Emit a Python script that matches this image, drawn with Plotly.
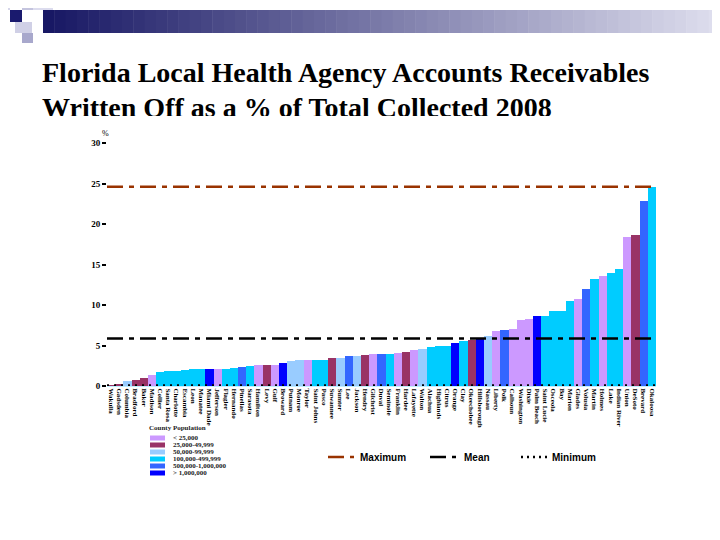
import plotly.graph_objects as go

counties = ["Wakulla", "Gadsden", "Columbia", "Bradford", "Baker", "Madison", "Collier",
            "Santa Rosa", "Charlotte", "Escambia", "Leon", "Manatee", "Miami Dade", "Jefferson",
            "Flagler", "Hernando", "Pinellas", "Sarasota", "Hamilton", "Levy", "Gulf", "Broward",
            "Putnam", "Monroe", "Taylor", "Saint Johns", "Pasco", "Suwannee", "Sumter", "Lee",
            "Jackson", "Hendry", "Gilchrist", "Duval", "Seminole", "Franklin", "Hardee",
            "Lafayette", "Walton", "Alachua", "Highlands", "Citrus", "Orange", "Clay",
            "Okeechobee", "Hillsborough", "Nassau", "Liberty", "Polk", "Calhoun", "Washington",
            "Dixie", "Palm Beach", "Saint Lucie", "Osceola", "Bay", "Marion", "Glades", "Volusia",
            "Martin", "Holmes", "Lake", "Indian River", "Union", "DeSoto", "Brevard", "Okaloosa"]

pct_written_off = [0.1, 0.15, 0.65, 0.75, 1.0, 1.3, 1.7,
                   1.8, 1.9, 2.0, 2.05, 2.1, 2.1, 2.1,
                   2.1, 2.25, 2.4, 2.5, 2.55, 2.6, 2.6, 2.9,
                   3.1, 3.15, 3.2, 3.2, 3.2, 3.5, 3.5, 3.75,
                   3.75, 3.85, 4.0, 4.0, 4.0, 4.1, 4.2,
                   4.5, 4.6, 4.85, 4.9, 4.95, 5.35, 5.5,
                   5.7, 5.85, 6.2, 6.8, 6.9, 7.0, 8.1,
                   8.3, 8.6, 8.6, 9.3, 9.3, 10.5, 10.8, 12.0,
                   13.2, 13.6, 14.0, 14.4, 18.4, 18.6, 22.9, 24.6]

# population class index per county (into pop_labels)
pop_class = [1, 1, 2, 1, 1, 0, 3,
             3, 3, 3, 3, 3, 5, 0,
             3, 3, 4, 3, 0, 1, 0, 5,
             2, 2, 0, 3, 3, 1, 2, 4,
             2, 1, 0, 4, 3, 0, 1,
             0, 2, 3, 3, 3, 5, 3,
             1, 5, 2, 0, 4, 0, 0,
             0, 5, 3, 3, 3, 3, 0, 4,
             3, 0, 3, 3, 0, 1, 4, 3]

pop_labels = ["< 25,000", "25,000-49,999", "50,000-99,999", "100,000-499,999",
              "500,000-1,000,000", "> 1,000,000"]
pop_colors = ["#CC99FF", "#993366", "#99CCFF", "#00CCFF", "#3366FF", "#0000FF"]

y_ticks = [0, 5, 10, 15, 20, 25, 30]

title_lines = ["Florida Local Health Agency Accounts Receivables",
               "Written Off as a % of Total Collected 2008"]

# page is offset by the body margin (8px); figure size chosen so the page is 720x540
OFF = 8
W, H = 720 - OFF, 540 - OFF
L, R, T, B = 107, 656, 143, 386   # plot area in page pixels


def px(x):
    return (x - OFF) / W


def py(y):
    return 1 - (y - OFF) / H


mx = max(pct_written_off)
mn = min(pct_written_off)
mean = sum(pct_written_off) / len(pct_written_off)

fig = go.Figure()
fig.add_trace(go.Bar(
    x=counties, y=pct_written_off,
    marker=dict(color=[pop_colors[c] for c in pop_class], line=dict(width=0)),
    showlegend=False, hoverinfo="x+y"))

# title in its own clipped subplot (second line partly hidden as in the slide)
TT, TB = 50, 116
fig.add_trace(go.Scatter(
    x=[42, 42], y=[75, 110], text=title_lines, mode="text", textposition="middle right",
    textfont=dict(family="Liberation Serif, Times New Roman, serif", size=28, color="black",
                  weight="bold"),
    cliponaxis=True, showlegend=False, hoverinfo="skip", xaxis="x2", yaxis="y2"))

shapes = []
# reference lines
dd = "16px,6px,5px,6px"
shapes.append(dict(type="line", xref="x domain", yref="y", x0=0, x1=1, y0=mx, y1=mx,
                   line=dict(color="#993300", width=2.5, dash=dd), layer="above"))
shapes.append(dict(type="line", xref="x domain", yref="y", x0=0, x1=1, y0=mean, y1=mean,
                   line=dict(color="black", width=2.5, dash=dd), layer="above"))
shapes.append(dict(type="line", xref="x domain", yref="y", x0=0, x1=1, y0=mn, y1=mn,
                   line=dict(color="black", width=2, dash="2px,5px"), layer="above"))

# header gradient bar
n = 60
x_start, x_end = 43, 720
c0 = (24, 24, 100)
c1 = (222, 222, 238)
for i in range(n):
    t = i / (n - 1)
    col = tuple(int(c0[k] + (c1[k] - c0[k]) * t) for k in range(3))
    xa = x_start + (x_end - x_start) * i / n
    xb = x_start + (x_end - x_start) * (i + 1) / n + 0.5
    shapes.append(dict(type="rect", xref="paper", yref="paper", x0=px(xa), x1=px(xb),
                       y0=py(33), y1=py(10), line=dict(width=0),
                       fillcolor="rgb(%d,%d,%d)" % col, layer="below"))
# decorative squares
squares = [((8, 8, 10, 10), "#d6d6ea"), ((22, 8, 33, 10), "#c4c4de"), ((33, 8, 53, 10), "#dcdcee"),
           ((15, 22, 32, 33), "#d0d0e6"), ((22, 33, 33, 43), "#a8a8cc"), ((10, 10, 22, 22), "#1a1a6e")]
for (a, b, c, d), col in squares:
    shapes.append(dict(type="rect", xref="paper", yref="paper", x0=px(a), x1=px(c),
                       y0=py(d), y1=py(b), line=dict(width=0), fillcolor=col, layer="below"))

annotations = []
annotations.append(dict(xref="paper", yref="paper", x=px(100), y=py(127), text="%",
                        showarrow=False, font=dict(family="Liberation Serif", size=8, color="black")))

# population legend
annotations.append(dict(xref="paper", yref="paper", x=px(147), y=py(428), xanchor="left",
                        yanchor="middle", text="County Population", showarrow=False,
                        font=dict(family="Liberation Serif", size=7, color="#222", weight="bold")))
for i, (lab, col) in enumerate(zip(pop_labels, pop_colors)):
    yc = 438 + i * 7
    shapes.append(dict(type="rect", xref="paper", yref="paper", x0=px(150), x1=px(165),
                       y0=py(yc + 2.5), y1=py(yc - 2.5), line=dict(width=0), fillcolor=col))
    annotations.append(dict(xref="paper", yref="paper", x=px(171), y=py(yc), xanchor="left",
                            yanchor="middle", text=lab, showarrow=False,
                            font=dict(family="Liberation Serif", size=7, color="#222", weight="bold")))

# line legend
line_leg = [("Maximum", "#993300", dd, 328, 358),
            ("Mean", "black", dd, 430, 462),
            ("Minimum", "black", "2px,4px", 521, 550)]
for lab, col, dash, x0, xt in line_leg:
    shapes.append(dict(type="line", xref="paper", yref="paper", x0=px(x0), x1=px(x0 + 26),
                       y0=py(457), y1=py(457), line=dict(color=col, width=2.5, dash=dash)))
    annotations.append(dict(xref="paper", yref="paper", x=px(xt), y=py(457), xanchor="left",
                            yanchor="middle", text=lab, showarrow=False,
                            font=dict(family="Liberation Sans, Arial", size=10, color="black",
                                      weight="bold")))

fig.update_layout(
    width=W, height=H,
    margin=dict(l=0, r=0, t=0, b=0, pad=0),
    paper_bgcolor="white", plot_bgcolor="rgba(0,0,0,0)",
    bargap=0,
    shapes=shapes, annotations=annotations,
    xaxis=dict(domain=[px(L), px(R)], type="category", tickangle=90, showgrid=False,
               zeroline=False, showline=True, linecolor="#bfeeff", linewidth=1, ticks="",
               tickfont=dict(family="Liberation Serif", size=7, color="black", weight="bold"),
               automargin=False, anchor="y"),
    yaxis=dict(domain=[py(B), py(T)], range=[0, 30], tickvals=y_ticks, showgrid=False,
               zeroline=False, showline=False, ticks="outside", ticklen=4, tickwidth=1.5,
               tickcolor="black", anchor="x",
               tickfont=dict(family="Liberation Serif", size=9, color="black", weight="bold"),
               automargin=False),
    xaxis2=dict(domain=[0, 1], range=[OFF, 720], visible=False, fixedrange=True, anchor="y2"),
    yaxis2=dict(domain=[py(TB), py(TT)], range=[TB, TT], visible=False, fixedrange=True,
                anchor="x2"),
)

fig.write_html("out.html")
